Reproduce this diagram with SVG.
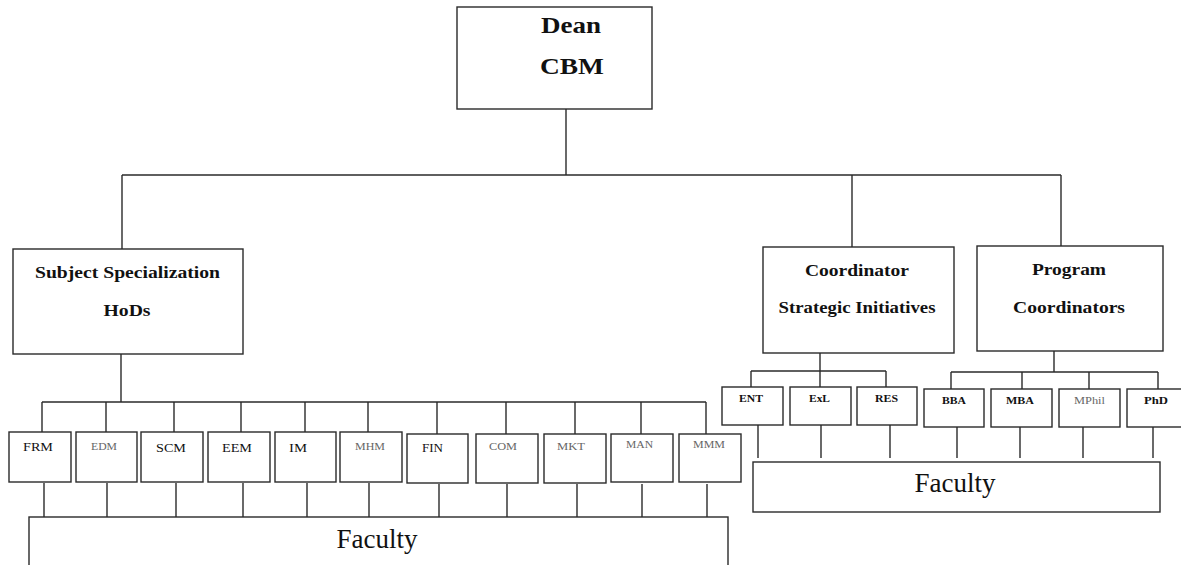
<svg xmlns="http://www.w3.org/2000/svg" width="1181" height="565" viewBox="0 0 1181 565">
<style>
rect{fill:#fff;stroke:#2a2a2a;stroke-width:1.4}
.c line{stroke:#2a2a2a;stroke-width:1.4}
text{font-family:"Liberation Serif","Times New Roman",serif;fill:#111;text-anchor:middle}
.b{font-weight:bold}
.big{font-size:23px}
.mid{font-size:16px}
.sm{font-size:12px}
.g{font-size:11px;fill:#666}
.fac{font-size:27px}
</style>
<rect x="0" y="0" width="1181" height="565" style="stroke:none"/>
<g class="c" id="connectors">
<line x1="566" y1="109" x2="566" y2="175"/>
<line x1="122" y1="175" x2="1061" y2="175"/>
<line x1="122" y1="175" x2="122" y2="249"/>
<line x1="852" y1="175" x2="852" y2="247"/>
<line x1="1061" y1="175" x2="1061" y2="246"/>
<line x1="121" y1="354" x2="121" y2="402"/>
<line x1="42" y1="402" x2="706" y2="402"/>
<line x1="42" y1="402" x2="42" y2="432"/>
<line x1="106" y1="402" x2="106" y2="432"/>
<line x1="174" y1="402" x2="174" y2="432"/>
<line x1="241" y1="402" x2="241" y2="432"/>
<line x1="305" y1="402" x2="305" y2="432"/>
<line x1="368" y1="402" x2="368" y2="432"/>
<line x1="437" y1="402" x2="437" y2="434"/>
<line x1="506" y1="402" x2="506" y2="434"/>
<line x1="575" y1="402" x2="575" y2="434"/>
<line x1="641" y1="402" x2="641" y2="434"/>
<line x1="706" y1="402" x2="706" y2="434"/>
<line x1="44" y1="483" x2="44" y2="517"/>
<line x1="107" y1="483" x2="107" y2="517"/>
<line x1="176" y1="483" x2="176" y2="517"/>
<line x1="243" y1="483" x2="243" y2="517"/>
<line x1="307" y1="483" x2="307" y2="517"/>
<line x1="369" y1="483" x2="369" y2="517"/>
<line x1="439" y1="484" x2="439" y2="517"/>
<line x1="507" y1="484" x2="507" y2="517"/>
<line x1="577" y1="484" x2="577" y2="517"/>
<line x1="642" y1="484" x2="642" y2="517"/>
<line x1="707" y1="484" x2="707" y2="517"/>
<line x1="820" y1="353" x2="820" y2="387"/>
<line x1="751" y1="371" x2="886" y2="371"/>
<line x1="751" y1="371" x2="751" y2="387"/>
<line x1="886" y1="371" x2="886" y2="387"/>
<line x1="1054" y1="351" x2="1054" y2="372"/>
<line x1="951" y1="372" x2="1158" y2="372"/>
<line x1="951" y1="372" x2="951" y2="389"/>
<line x1="1022" y1="372" x2="1022" y2="389"/>
<line x1="1089" y1="372" x2="1089" y2="389"/>
<line x1="1158" y1="372" x2="1158" y2="389"/>
<line x1="758" y1="425" x2="758" y2="458"/>
<line x1="821" y1="425" x2="821" y2="458"/>
<line x1="890" y1="425" x2="890" y2="458"/>
<line x1="957" y1="427" x2="957" y2="458"/>
<line x1="1020" y1="427" x2="1020" y2="458"/>
<line x1="1083" y1="427" x2="1083" y2="458"/>
<line x1="1153" y1="427" x2="1153" y2="458"/>
</g>
<g id="dean"><rect x="457" y="7" width="195" height="102"/>
<text class="b big" x="571" y="33" textLength="60" lengthAdjust="spacingAndGlyphs">Dean</text>
<text class="b big" x="572" y="74" textLength="64" lengthAdjust="spacingAndGlyphs">CBM</text></g>
<g id="subject"><rect x="13" y="249" width="230" height="105"/>
<text class="b mid" x="127.5" y="278" textLength="185" lengthAdjust="spacingAndGlyphs">Subject Specialization</text>
<text class="b mid" x="127" y="316" textLength="47" lengthAdjust="spacingAndGlyphs">HoDs</text></g>
<g id="coordinator"><rect x="763" y="247" width="191" height="106"/>
<text class="b mid" x="857" y="276" textLength="104" lengthAdjust="spacingAndGlyphs">Coordinator</text>
<text class="b mid" x="857" y="313" textLength="157" lengthAdjust="spacingAndGlyphs">Strategic Initiatives</text></g>
<g id="program"><rect x="977" y="246" width="186" height="105"/>
<text class="b mid" x="1069" y="275" textLength="74" lengthAdjust="spacingAndGlyphs">Program</text>
<text class="b mid" x="1069" y="313" textLength="112" lengthAdjust="spacingAndGlyphs">Coordinators</text></g>
<g id="frm"><rect x="9" y="432" width="62" height="50"/><text class="sm" x="38" y="451" textLength="30" lengthAdjust="spacingAndGlyphs">FRM</text></g>
<g id="edm"><rect x="76" y="432" width="61" height="50"/><text class="g" x="104" y="450" textLength="26" lengthAdjust="spacingAndGlyphs">EDM</text></g>
<g id="scm"><rect x="141" y="432" width="62" height="50"/><text class="sm" x="171" y="452" textLength="30" lengthAdjust="spacingAndGlyphs">SCM</text></g>
<g id="eem"><rect x="208" y="432" width="62" height="50"/><text class="sm" x="237" y="452" textLength="30" lengthAdjust="spacingAndGlyphs">EEM</text></g>
<g id="im"><rect x="275" y="432" width="61" height="50"/><text class="sm" x="298" y="452" textLength="18" lengthAdjust="spacingAndGlyphs">IM</text></g>
<g id="mhm"><rect x="340" y="432" width="62" height="50"/><text class="g" x="370" y="450" textLength="30" lengthAdjust="spacingAndGlyphs">MHM</text></g>
<g id="fin"><rect x="407" y="434" width="61" height="49"/><text class="sm" x="432.5" y="452" textLength="21" lengthAdjust="spacingAndGlyphs">FIN</text></g>
<g id="com"><rect x="476" y="434" width="62" height="49"/><text class="g" x="503" y="450" textLength="28" lengthAdjust="spacingAndGlyphs">COM</text></g>
<g id="mkt"><rect x="544" y="434" width="62" height="49"/><text class="g" x="571" y="450" textLength="28" lengthAdjust="spacingAndGlyphs">MKT</text></g>
<g id="man"><rect x="611" y="434" width="62" height="48"/><text class="g" x="639.5" y="448" textLength="27" lengthAdjust="spacingAndGlyphs">MAN</text></g>
<g id="mmm"><rect x="679" y="434" width="62" height="48"/><text class="g" x="709" y="448" textLength="32" lengthAdjust="spacingAndGlyphs">MMM</text></g>
<g id="faculty1"><rect x="29" y="517" width="699" height="60"/><text class="fac" x="377" y="548">Faculty</text></g>
<g id="ent"><rect x="722" y="387" width="61" height="38"/><text class="b g" style="fill:#111" x="751" y="402" textLength="24" lengthAdjust="spacingAndGlyphs">ENT</text></g>
<g id="exl"><rect x="790" y="387" width="61" height="38"/><text class="b g" style="fill:#111" x="819.5" y="402" textLength="21" lengthAdjust="spacingAndGlyphs">ExL</text></g>
<g id="res"><rect x="857" y="387" width="60" height="38"/><text class="b g" style="fill:#111" x="886.5" y="402" textLength="23" lengthAdjust="spacingAndGlyphs">RES</text></g>
<g id="bba"><rect x="924" y="389" width="60" height="38"/><text class="b g" style="fill:#111" x="954" y="404" textLength="24" lengthAdjust="spacingAndGlyphs">BBA</text></g>
<g id="mba"><rect x="991" y="389" width="61" height="38"/><text class="b g" style="fill:#111" x="1020" y="404" textLength="28" lengthAdjust="spacingAndGlyphs">MBA</text></g>
<g id="mphil"><rect x="1059" y="389" width="61" height="38"/><text class="g" x="1089.5" y="404" textLength="31" lengthAdjust="spacingAndGlyphs">MPhil</text></g>
<g id="phd"><rect x="1127" y="389" width="62" height="38"/><text class="b g" style="fill:#111" x="1156" y="404" textLength="24" lengthAdjust="spacingAndGlyphs">PhD</text></g>
<g id="faculty2"><rect x="753" y="462" width="407" height="50"/><text class="fac" x="955" y="492">Faculty</text></g>
</svg>
